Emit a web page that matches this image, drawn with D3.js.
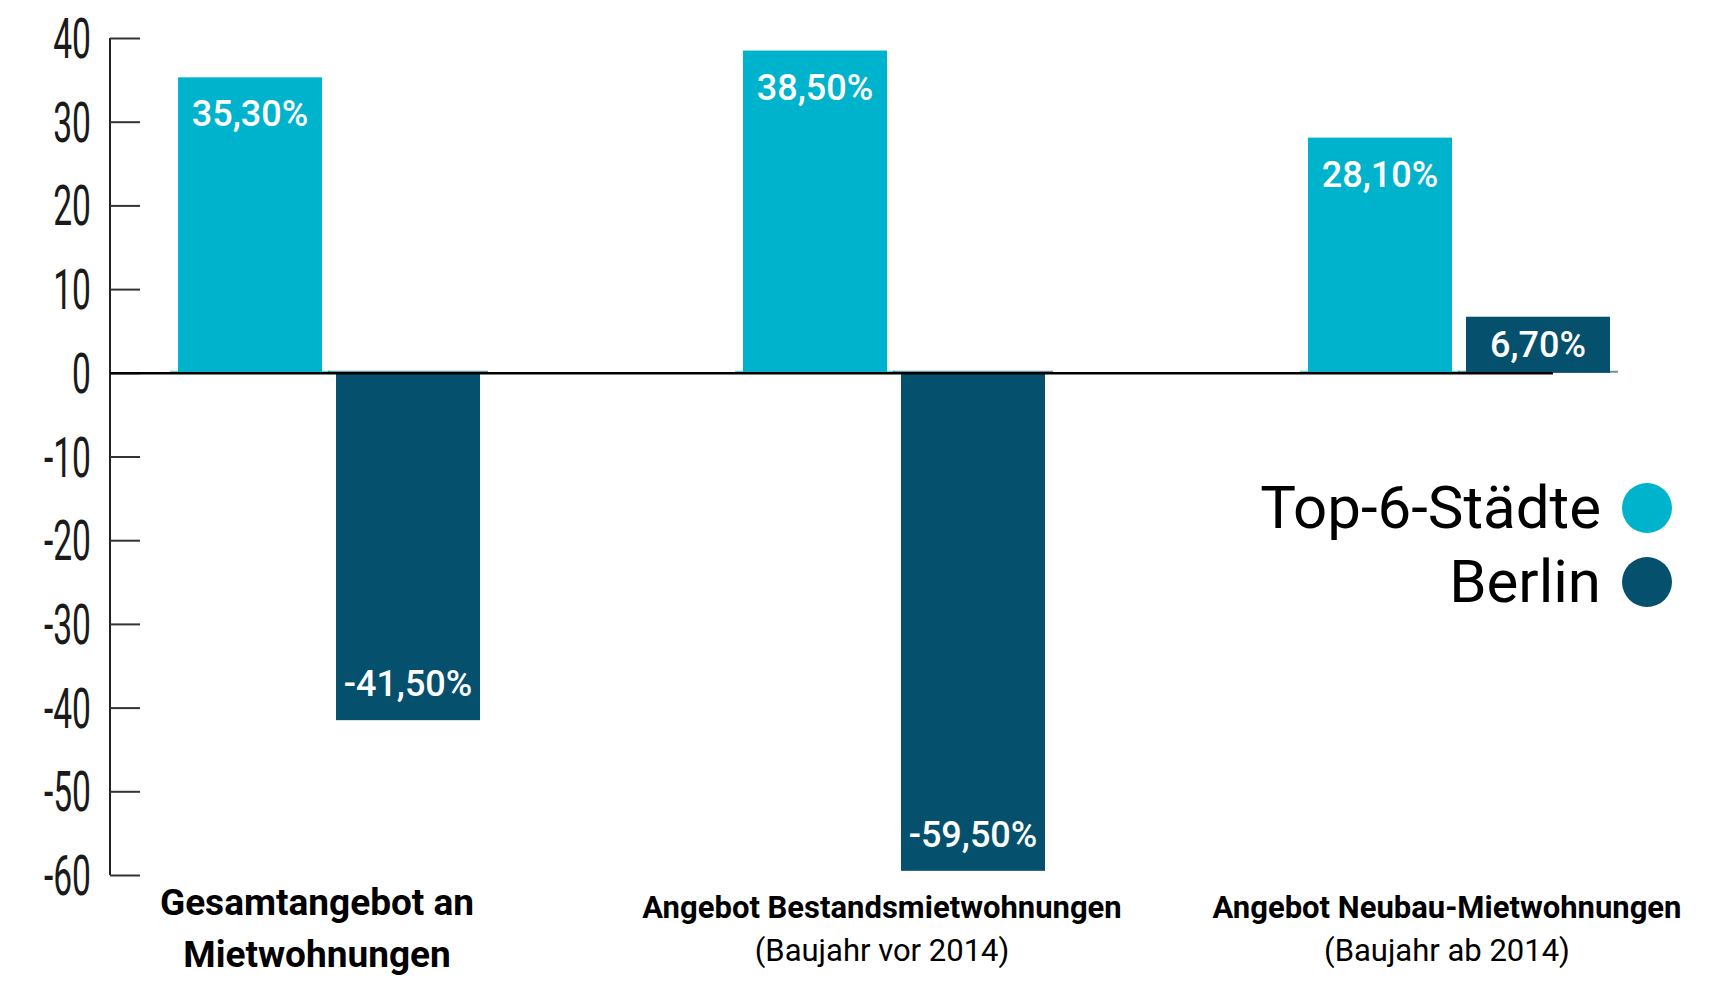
<!DOCTYPE html>
<html>
<head>
<meta charset="utf-8">
<script src="https://cdn.jsdelivr.net/npm/d3@7"></script>
<style>
  html, body { margin: 0; padding: 0; background: #fff; }
  svg { display: block; }
  text { font-family: Roboto, "Noto Sans", sans-serif; }
</style>
</head>
<body>
<svg id="chart" width="1722" height="1000"></svg>
<script>
// ---- data ----
const categories = ["Gesamtangebot an Mietwohnungen", "Angebot Bestandsmietwohnungen", "Angebot Neubau-Mietwohnungen"];
const categoryLines = [
  [["Gesamtangebot an", "bold"], ["Mietwohnungen", "bold"]],
  [["Angebot Bestandsmietwohnungen", "bold"], ["(Baujahr vor 2014)", "normal"]],
  [["Angebot Neubau-Mietwohnungen", "bold"], ["(Baujahr ab 2014)", "normal"]]
];
const seriesNames = ["Top-6-Städte", "Berlin"];
const top6Values = [35.3, 38.5, 28.1];
const berlinValues = [-41.5, -59.5, 6.7];
const yTicks = [40, 30, 20, 10, 0, -10, -20, -30, -40, -50, -60];
const colors = ["#00B3CC", "#05506D"];

// ---- scales ----
const svg = d3.select("#chart");
const y = d3.scaleLinear().domain([-60, 40]).range([875, 38]);
const x0 = d3.scaleBand().domain(categories).range([110, 1678]).paddingInner(0.4655).paddingOuter(0.1204);
const x1 = d3.scaleBand().domain(seriesNames).range([0, x0.bandwidth()]).paddingInner(0.0886);
const color = d3.scaleOrdinal().domain(seriesNames).range(colors);

const rows = [];
categories.forEach((c, i) => {
  rows.push({cat: c, s: seriesNames[0], v: top6Values[i]});
  rows.push({cat: c, s: seriesNames[1], v: berlinValues[i]});
});

const fmt = v => d3.format(".2f")(v).replace(".", ",").replace("\u2212", "-") + "%";

// ---- y axis ----
const axisX = x0.range()[0];
const yAxis = d3.axisRight(y).tickValues(yTicks).tickSize(30).tickFormat("");
const gy = svg.append("g").attr("transform", `translate(${axisX},0)`).call(yAxis);
gy.select(".domain").attr("stroke", "#222").attr("stroke-width", 2).attr("d", `M0,${y(40)}V${y(-60)}`);
gy.selectAll(".tick line").attr("stroke", "#333").attr("stroke-width", 2);

svg.append("g").selectAll("text").data(yTicks).join("text")
  .attr("transform", d => `translate(91,${y(d) + 20}) scale(0.6,1)`)
  .attr("text-anchor", "end")
  .attr("font-size", 56)
  .attr("fill", "#1a1a1a")
  .text(d => d);

// ---- bars ----
const y0 = y(0);
svg.append("g").selectAll("line").data(rows).join("line")
  .attr("x1", d => x0(d.cat) + x1(d.s) - 8)
  .attr("x2", d => x0(d.cat) + x1(d.s) + x1.bandwidth() + 8)
  .attr("y1", y0 - 1).attr("y2", y0 - 1)
  .attr("stroke", d => color(d.s)).attr("stroke-opacity", 0.6).attr("stroke-width", 2);

svg.append("g").selectAll("rect").data(rows).join("rect")
  .attr("x", d => x0(d.cat) + x1(d.s))
  .attr("width", x1.bandwidth())
  .attr("y", d => Math.min(y(d.v), y0))
  .attr("height", d => Math.abs(y(d.v) - y0))
  .attr("fill", d => color(d.s));

// zero line
svg.append("line")
  .attr("x1", axisX).attr("x2", x0(categories[2]) + x1(seriesNames[1]) + x1.bandwidth() / 2 + 15)
  .attr("y1", y0 + 0.5).attr("y2", y0 + 0.5)
  .attr("stroke", "#000").attr("stroke-width", 2.5);

// value labels
svg.append("g").selectAll("text").data(rows).join("text")
  .attr("x", d => x0(d.cat) + x1(d.s) + x1.bandwidth() / 2)
  .attr("y", d => d.v >= 0 ? y(d.v) + Math.min(49, (y0 - y(d.v)) / 2 + 12) : y(d.v) - 24)
  .attr("text-anchor", "middle")
  .attr("font-size", 36)
  .attr("font-weight", 500)
  .attr("fill", "#fff")
  .text(d => fmt(d.v));

// ---- category labels ----
const catG = svg.append("g").selectAll("g").data(categories).join("g")
  .attr("transform", d => `translate(${x0(d) + x0.bandwidth() / 2 - 12},0)`);
catG.each(function(d, i) {
  const g = d3.select(this);
  const lines = categoryLines[i];
  const big = i === 0;
  g.selectAll("text").data(lines).join("text")
    .attr("x", 0)
    .attr("y", (l, j) => big ? (j === 0 ? 915 : 967) : (j === 0 ? 918 : 961))
    .attr("text-anchor", "middle")
    .attr("font-size", big ? 37 : 31)
    .attr("font-weight", l => l[1] === "bold" ? 700 : 400)
    .attr("fill", "#000")
    .text(l => l[0]);
});

// ---- legend ----
const legend = svg.append("g").selectAll("g").data(seriesNames).join("g")
  .attr("transform", (d, i) => `translate(1647,${[508, 582][i]})`);
legend.append("circle").attr("r", 25).attr("fill", d => color(d));
legend.append("text")
  .attr("x", -46).attr("y", 20)
  .attr("text-anchor", "end")
  .attr("font-size", 60)
  .attr("fill", "#000")
  .text(d => d);
</script>
</body>
</html>
